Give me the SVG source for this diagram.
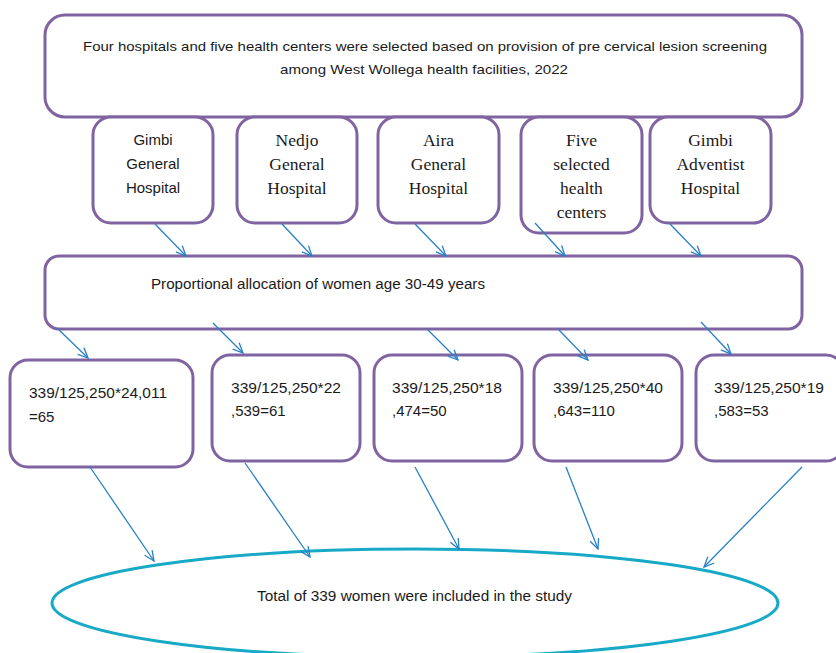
<svg xmlns="http://www.w3.org/2000/svg" width="836" height="653" viewBox="0 0 836 653">
<defs>
<marker id="ah" viewBox="-11 -6 12 12" refX="0" refY="0" markerWidth="12" markerHeight="12" markerUnits="userSpaceOnUse" orient="auto">
<path d="M-10,-4.5 L0,0 L-10,4.5" fill="none" stroke="#2a80c6" stroke-width="1.3"/>
</marker>
<style>
.box{fill:#fff;stroke:#8064a2;stroke-width:3}
.sans{font-family:"Liberation Sans","Open Sans",sans-serif;fill:#1a1a1a}
.serif{font-family:"Liberation Serif","Times New Roman",serif;fill:#1a1a1a;font-size:17.5px}
.con line{stroke:#2a80c6;stroke-width:1.3;marker-end:url(#ah)}
</style>
</defs>
<rect width="836" height="653" fill="#fff"/>
<g id="top">
<rect class="box" x="45" y="15" width="757" height="102" rx="20"/>
<text class="sans" font-size="13.5" text-anchor="middle" x="425" y="51" textLength="684" lengthAdjust="spacingAndGlyphs">Four hospitals and five health centers were selected based on provision of pre cervical lesion screening</text>
<text class="sans" font-size="13.5" text-anchor="middle" x="424" y="74" textLength="288" lengthAdjust="spacingAndGlyphs">among West Wollega health facilities, 2022</text>
</g>
<g id="gimbi">
<rect class="box" x="93" y="117" width="120" height="106" rx="18"/>
<text class="sans" font-size="15" text-anchor="middle" x="153"><tspan x="153" y="145">Gimbi</tspan><tspan x="153" y="169">General</tspan><tspan x="153" y="193">Hospital</tspan></text>
</g>
<g id="nedjo">
<rect class="box" x="237" y="117" width="120" height="106" rx="18"/>
<text class="serif" text-anchor="middle"><tspan x="297" y="146">Nedjo</tspan><tspan x="297" y="170">General</tspan><tspan x="297" y="194">Hospital</tspan></text>
</g>
<g id="aira">
<rect class="box" x="378" y="117" width="121" height="106" rx="18"/>
<text class="serif" text-anchor="middle"><tspan x="438.5" y="146">Aira</tspan><tspan x="438.5" y="170">General</tspan><tspan x="438.5" y="194">Hospital</tspan></text>
</g>
<g id="five">
<rect class="box" x="521" y="117" width="121" height="116" rx="18"/>
<text class="serif" text-anchor="middle"><tspan x="581.5" y="146">Five</tspan><tspan x="581.5" y="170">selected</tspan><tspan x="581.5" y="194">health</tspan><tspan x="581.5" y="218">centers</tspan></text>
</g>
<g id="adventist">
<rect class="box" x="650" y="117" width="121" height="106" rx="18"/>
<text class="serif" text-anchor="middle"><tspan x="710.5" y="146">Gimbi</tspan><tspan x="710.5" y="170">Adventist</tspan><tspan x="710.5" y="194">Hospital</tspan></text>
</g>
<g id="proportional">
<rect class="box" x="45" y="256" width="757" height="73" rx="14"/>
<text class="sans" font-size="14" x="151" y="289" textLength="334" lengthAdjust="spacingAndGlyphs">Proportional allocation of women age 30-49 years</text>
</g>
<g id="alloc1">
<rect class="box" x="10" y="360" width="183" height="107" rx="18"/>
<text class="sans" font-size="15"><tspan x="29" y="398" textLength="138" lengthAdjust="spacingAndGlyphs">339/125,250*24,011</tspan><tspan x="29" y="422">=65</tspan></text>
</g>
<g id="alloc2">
<rect class="box" x="212" y="355" width="148" height="106" rx="18"/>
<text class="sans" font-size="15"><tspan x="231" y="393" textLength="110" lengthAdjust="spacingAndGlyphs">339/125,250*22</tspan><tspan x="231" y="416">,539=61</tspan></text>
</g>
<g id="alloc3">
<rect class="box" x="374" y="355" width="148" height="106" rx="18"/>
<text class="sans" font-size="15"><tspan x="392" y="393" textLength="110" lengthAdjust="spacingAndGlyphs">339/125,250*18</tspan><tspan x="392" y="416">,474=50</tspan></text>
</g>
<g id="alloc4">
<rect class="box" x="534" y="355" width="148" height="106" rx="18"/>
<text class="sans" font-size="15"><tspan x="553" y="393" textLength="110" lengthAdjust="spacingAndGlyphs">339/125,250*40</tspan><tspan x="553" y="416">,643=110</tspan></text>
</g>
<g id="alloc5">
<rect class="box" x="696" y="355" width="148" height="106" rx="18"/>
<text class="sans" font-size="15"><tspan x="714" y="393" textLength="110" lengthAdjust="spacingAndGlyphs">339/125,250*19</tspan><tspan x="714" y="416">,583=53</tspan></text>
</g>
<g id="total">
<ellipse cx="415" cy="603" rx="363" ry="54" fill="none" stroke="#17a9c6" stroke-width="3"/>
<text class="sans" font-size="14" x="257" y="601" textLength="315" lengthAdjust="spacingAndGlyphs">Total of 339 women were included in the study</text>
</g>
<g id="connectors" class="con">
<line x1="155" y1="224" x2="186" y2="256"/>
<line x1="282" y1="224" x2="312" y2="256"/>
<line x1="415" y1="224" x2="446" y2="256"/>
<line x1="535" y1="223" x2="565" y2="256"/>
<line x1="670" y1="224" x2="701" y2="256"/>
<line x1="57" y1="328" x2="88" y2="358"/>
<line x1="213" y1="323" x2="243" y2="353"/>
<line x1="427" y1="329" x2="458" y2="360"/>
<line x1="558" y1="329" x2="588" y2="360"/>
<line x1="701" y1="322" x2="731" y2="354"/>
<line x1="90" y1="467" x2="154" y2="561"/>
<line x1="245" y1="463" x2="310" y2="557"/>
<line x1="415" y1="467" x2="459" y2="549"/>
<line x1="566" y1="467" x2="598" y2="549"/>
<line x1="802" y1="467" x2="704" y2="567"/>
</g>
</svg>
